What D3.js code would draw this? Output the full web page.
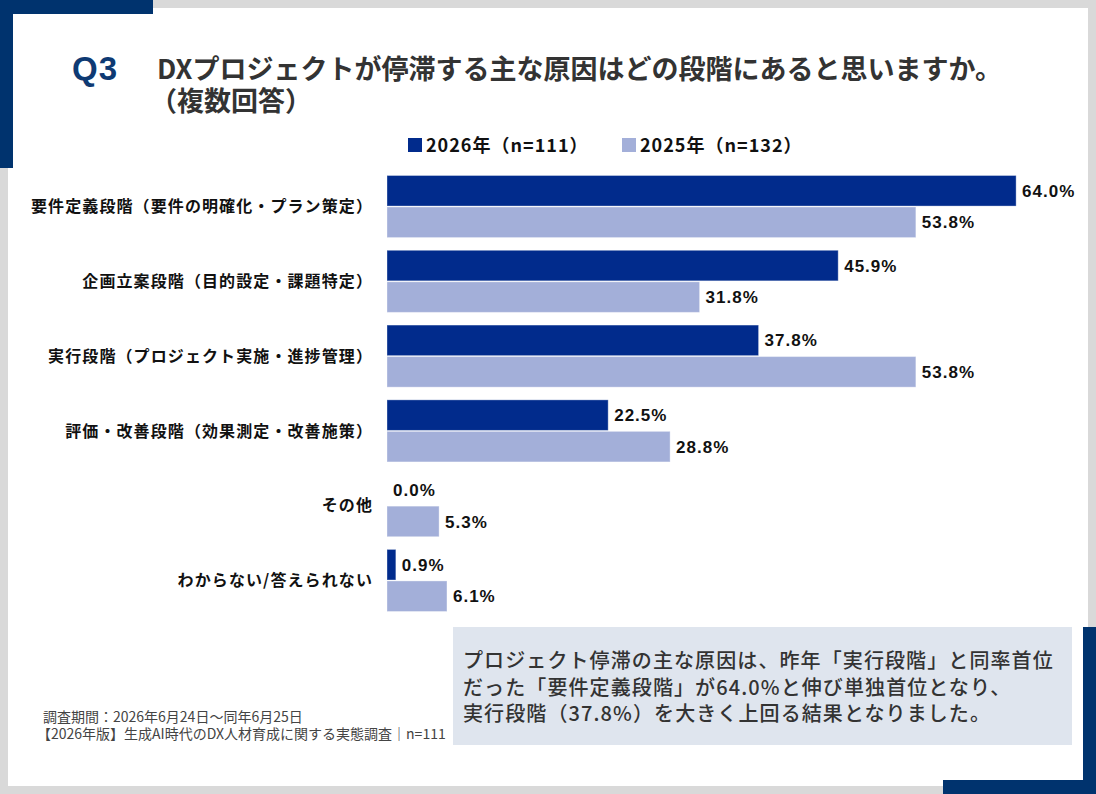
<!DOCTYPE html>
<html>
<head>
<meta charset="utf-8">
<script src="https://cdn.jsdelivr.net/npm/d3@7"></script>
<style>
    body { margin: 0; padding: 0; background: #d9d9d9; }
    svg { display: block; }
</style>
</head>
<body>
<div id="plot"></div>
<script>
const PLOT_WIDTH = 1096;
const PLOT_HEIGHT = 794;

// data
const categories = [
    '要件定義段階（要件の明確化・プラン策定）',
    '企画立案段階（目的設定・課題特定）',
    '実行段階（プロジェクト実施・進捗管理）',
    '評価・改善段階（効果測定・改善施策）',
    'その他',
    'わからない/答えられない'
];
const series = ['2026', '2025'];
const legend_labels = ['2026年（n=111）', '2025年（n=132）'];
const values_2026 = [64.0, 45.9, 37.8, 22.5, 0.0, 0.9];
const values_2025 = [53.8, 31.8, 53.8, 28.8, 5.3, 6.1];

const title_lines = [
    'DXプロジェクトが停滞する主な原因はどの段階にあると思いますか。',
    '（複数回答）'
];
const note_lines = [
    'プロジェクト停滞の主な原因は、昨年「実行段階」と同率首位',
    'だった「要件定義段階」が64.0%と伸び単独首位となり、',
    '実行段階（37.8%）を大きく上回る結果となりました。'
];
const source_lines = [
    '調査期間：2026年6月24日～同年6月25日',
    '【2026年版】生成AI時代のDX人材育成に関する実態調査｜n=111'
];

const NAVY = '#00336e';
const CJK = '"Noto Sans CJK JP", "Noto Sans", sans-serif';
const LATIN = '"Liberation Sans", Arial, sans-serif';
const colors = { '2026': '#012b8c', '2025': '#a3afd9' };

var svg = d3.select('#plot')
    .append('svg')
    .attr('width', PLOT_WIDTH)
    .attr('height', PLOT_HEIGHT)
    .attr('font-family', CJK);

// card and corner decoration
svg.append('rect')
    .attr('width', PLOT_WIDTH).attr('height', PLOT_HEIGHT)
    .attr('fill', '#d9d9d9');
svg.append('rect')
    .attr('x', 8).attr('y', 8)
    .attr('width', 1080).attr('height', 778)
    .attr('fill', '#ffffff');
svg.append('rect').attr('x', 0).attr('y', 0).attr('width', 153).attr('height', 14).attr('fill', NAVY);
svg.append('rect').attr('x', 0).attr('y', 0).attr('width', 13).attr('height', 168).attr('fill', NAVY);
svg.append('rect').attr('x', 943).attr('y', 780).attr('width', 153).attr('height', 14).attr('fill', NAVY);
svg.append('rect').attr('x', 1083).attr('y', 627).attr('width', 13).attr('height', 167).attr('fill', NAVY);

// title
svg.append('text')
    .attr('x', 72).attr('y', 80)
    .attr('font-family', LATIN)
    .attr('font-size', 33)
    .attr('font-weight', 700)
    .attr('letter-spacing', 1)
    .attr('fill', '#0e3a73')
    .text('Q3');

// both title lines in one text element
svg.append('text')
    .attr('font-size', 27)
    .attr('font-weight', 700)
    .attr('fill', '#333333')
    .selectAll('tspan')
    .data(title_lines)
    .enter()
    .append('tspan')
    .attr('x', (d, i) => i == 0 ? 157 : 150)
    .attr('y', (d, i) => 79 + i * 32)
    .text(d => d);

// legend
let legend = svg.selectAll('.legend')
    .data(series)
    .enter()
    .append('g')
    .attr('class', 'legend')
    .attr('transform', (d, i) => `translate(${i == 0 ? 408 : 622},138)`);

legend.append('rect')
    .attr('width', 14).attr('height', 14)
    .attr('fill', d => colors[d]);

legend.append('text')
    .attr('x', 18).attr('y', 14)
    .attr('font-size', 18)
    .attr('font-weight', 700)
    .attr('letter-spacing', 1)
    .attr('fill', '#111111')
    .text((d, i) => legend_labels[i]);

// scales
let y = d3.scaleBand()
    .domain(categories)
    .range([175.5, 611.5])
    .paddingInner(0.17)
    .paddingOuter(0);

let y_inner = d3.scaleBand()
    .domain(series)
    .range([0, y.bandwidth()])
    .paddingInner(0.03);

let x = d3.scaleLinear()
    .domain([0, 100])
    .range([387, 1370]);

let data = [];
for (let i = 0; i < categories.length; i++) {
    data.push({ category: categories[i], series: '2026', value: values_2026[i] });
    data.push({ category: categories[i], series: '2025', value: values_2025[i] });
}

// category labels
svg.selectAll('.cat')
    .data(categories)
    .enter()
    .append('text')
    .attr('class', 'cat')
    .attr('x', 373)
    .attr('y', d => y(d) + y.bandwidth() / 2)
    .attr('dy', '0.36em')
    .attr('text-anchor', 'end')
    .attr('font-size', 16)
    .attr('font-weight', 700)
    .attr('letter-spacing', 1.1)
    .attr('fill', '#111111')
    .text(d => d);

// bars
svg.selectAll('.bar')
    .data(data)
    .enter()
    .append('rect')
    .attr('class', 'bar')
    .attr('x', x(0))
    .attr('y', d => y(d.category) + y_inner(d.series))
    .attr('width', d => x(d.value) - x(0))
    .attr('height', y_inner.bandwidth())
    .attr('fill', d => colors[d.series])
    .attr('stroke', d => d.value > 0 ? 'rgba(255,255,255,0.35)' : 'none')
    .attr('stroke-width', 1);

// value labels
svg.selectAll('.val')
    .data(data)
    .enter()
    .append('text')
    .attr('class', 'val')
    .attr('x', d => x(d.value) + 6)
    .attr('y', d => y(d.category) + y_inner(d.series) + y_inner.bandwidth() / 2)
    .attr('dy', '0.36em')
    .attr('font-family', LATIN)
    .attr('font-size', 17)
    .attr('font-weight', 700)
    .attr('letter-spacing', 1)
    .attr('fill', '#111111')
    .text(d => d.value.toFixed(1) + '%');

// comment box
svg.append('rect')
    .attr('x', 453).attr('y', 627)
    .attr('width', 619).attr('height', 118)
    .attr('fill', '#dfe5ee');

svg.append('text')
    .attr('font-size', 20)
    .attr('font-weight', 500)
    .attr('letter-spacing', 1.1)
    .attr('fill', '#333333')
    .selectAll('tspan')
    .data(note_lines)
    .enter()
    .append('tspan')
    .attr('x', 463)
    .attr('y', (d, i) => 668 + i * 26.5)
    .text(d => d);

// source
svg.append('text')
    .attr('font-size', 14)
    .attr('fill', '#444444')
    .selectAll('tspan')
    .data(source_lines)
    .enter()
    .append('tspan')
    .attr('x', (d, i) => i == 0 ? 43 : 37)
    .attr('y', (d, i) => 722 + i * 17)
    .text(d => d);
</script>
</body>
</html>
